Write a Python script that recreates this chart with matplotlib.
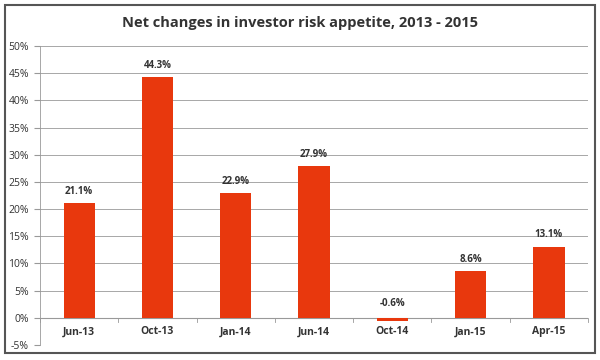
import matplotlib
matplotlib.use("Agg")
import matplotlib.pyplot as plt
from matplotlib.patches import Rectangle

categories = ["Jun-13", "Oct-13", "Jan-14", "Jun-14", "Oct-14", "Jan-15", "Apr-15"]
values = [21.1, 44.3, 22.9, 27.9, -0.6, 8.6, 13.1]
yticks = [-5, 0, 5, 10, 15, 20, 25, 30, 35, 40, 45, 50]

plt.rcParams['font.family'] = ['Open Sans', 'DejaVu Sans']

fig = plt.figure(figsize=(6, 3.6), dpi=100)
fig.patches.append(Rectangle((0.008, 0.02), 0.984, 0.965, transform=fig.transFigure,
                             fill=False, edgecolor='#555555', linewidth=1.5))
ax = fig.add_axes([0.0667, 0.0417, 0.9133, 0.8303])

x = list(range(len(categories)))
ax.bar(x, values, width=0.4, color='#E8380D', zorder=3)
ax.set_xlim(-0.5, len(categories) - 0.5)
ax.set_ylim(-5, 50)
ax.set_yticks(yticks)
ax.set_yticklabels([f"{t}%" for t in yticks], fontsize=7.5, color='#333333')
ax.grid(axis='y', color='#999999', linewidth=0.6, zorder=0)
ax.tick_params(axis='y', length=4, color='#999999', pad=4)
ax.set_xticks([])
for s in ['top', 'right', 'bottom']:
    ax.spines[s].set_visible(False)
ax.spines['left'].set_color('#999999')
ax.spines['left'].set_linewidth(0.6)

ax.axhline(0, color='#999999', linewidth=0.8, zorder=2)
for b in [i - 0.5 for i in range(len(categories) + 1)]:
    ax.plot([b, b], [0, -0.8], color='#999999', linewidth=0.6, clip_on=False, zorder=2)

for xi, c in zip(x, categories):
    ax.text(xi, -2.6, c, ha='center', va='center', fontsize=7.5, fontweight='bold', color='#333333')

for xi, v in zip(x, values):
    y = v + 1.2 if v >= 0 else 1.6
    ax.text(xi, y, f"{v}%", ha='center', va='bottom', fontsize=7, fontweight='bold', color='#333333')

fig.text(0.5, 0.935, "Net changes in investor risk appetite, 2013 - 2015", ha='center', va='center',
         fontsize=10.5, fontweight='bold', color='#333333')

fig.savefig("out.png", dpi=100)
